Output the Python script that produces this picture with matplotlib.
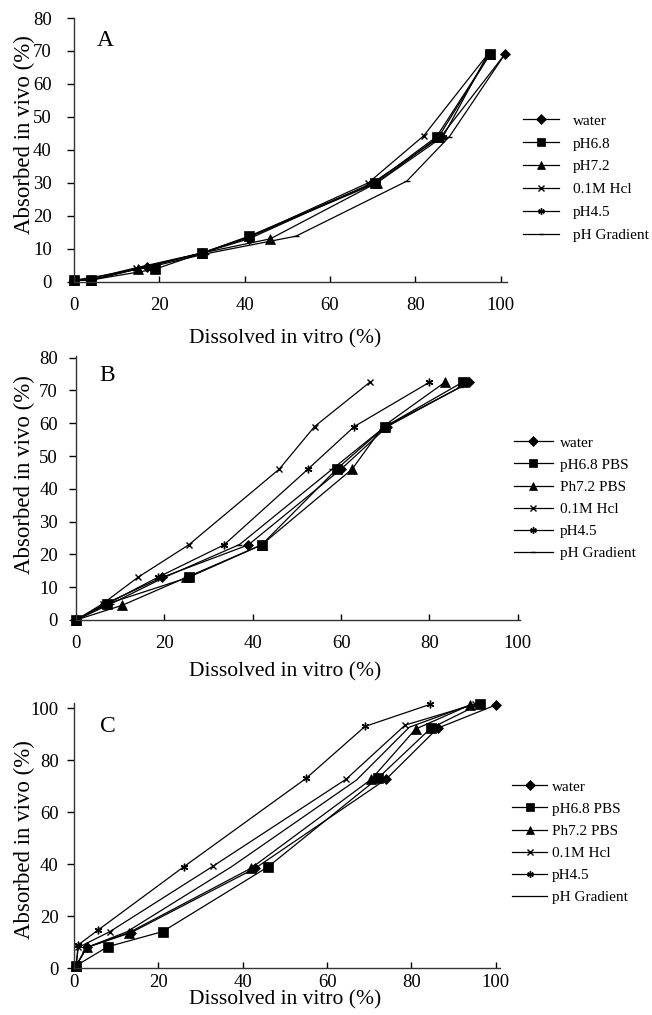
import matplotlib
matplotlib.use("Agg")
import matplotlib.pyplot as plt

plt.rcParams['font.family'] = ['Liberation Serif', 'DejaVu Serif']

# ---------------- Panel A data ----------------
a_water_x = [0, 4, 17, 30, 41, 70, 86, 101]
a_water_y = [0.5, 0.5, 4.5, 8.7, 13.0, 30, 44, 69]
a_ph68_x = [0, 4, 19, 30, 41, 70.5, 85, 97.5]
a_ph68_y = [0.5, 0.5, 3.8, 8.7, 13.8, 30, 44, 69]
a_ph72_x = [0, 4, 15, 30, 46, 71, 85.5, 97.5]
a_ph72_y = [0.5, 0.5, 4.0, 8.7, 13.0, 30, 44, 69]
a_hcl_x = [0, 3.5, 14.5, 30, 41, 69, 82, 97]
a_hcl_y = [0.5, 0.8, 4.2, 8.7, 13.5, 30, 44.3, 69]
a_ph45_x = [0, 4, 15, 30, 41, 71, 86.5, 97]
a_ph45_y = [0.5, 0.5, 4.0, 8.7, 13.5, 30, 44, 69]
a_grad_x = [0, 3, 18, 31, 52, 78, 88, 101]
a_grad_y = [0.5, 1.0, 4.5, 8.5, 13.8, 30.5, 44, 69]
a_labels = ['water', 'pH6.8', 'pH7.2', '0.1M Hcl', 'pH4.5', 'pH Gradient']

# ---------------- Panel B data ----------------
b_water_x = [0, 6.5, 19.5, 39, 60, 70.5, 89]
b_water_y = [0, 4.9, 13, 22.9, 46, 59, 72.5]
b_ph68_x = [0, 7, 25.5, 42, 59, 70, 87.5]
b_ph68_y = [0, 4.9, 13, 22.9, 46, 59, 72.5]
b_ph72_x = [0, 10.5, 25, 42, 62.5, 69.5, 83.5]
b_ph72_y = [0, 4.5, 13, 22.9, 46, 59, 72.5]
b_hcl_x = [0, 6, 14, 25.5, 46, 54, 66.5]
b_hcl_y = [0, 4.9, 13, 22.9, 46, 59, 72.5]
b_ph45_x = [0, 7, 18.5, 33.5, 52.5, 63, 80]
b_ph45_y = [0, 4.9, 13, 22.9, 46, 59, 72.5]
b_grad_x = [0, 8, 20, 37, 58, 70, 87]
b_grad_y = [0, 5, 13, 23, 46, 59, 71]
b_labels = ['water', 'pH6.8 PBS', 'Ph7.2 PBS', '0.1M Hcl', 'pH4.5', 'pH Gradient\u2009']

# ---------------- Panel C data ----------------
c_water_x = [0.5, 3, 13.5, 43, 74, 86.2, 100.1]
c_water_y = [1, 8, 13.7, 38.5, 72.7, 92.3, 101.3]
c_ph68_x = [0.5, 8, 21, 46, 72, 84.6, 96.3]
c_ph68_y = [1, 8.3, 14.1, 39, 73, 92.3, 101.7]
c_ph72_x = [0.5, 3, 13, 42, 70.5, 81, 94]
c_ph72_y = [1, 8, 13.7, 38.5, 72.7, 92, 101.3]
c_hcl_x = [0.5, 1, 8.5, 33, 64.5, 78.5, 95]
c_hcl_y = [1, 8, 14.1, 39.3, 72.7, 93.5, 101.5]
c_ph45_x = [0.5, 1, 5.7, 26, 55, 69, 84.5]
c_ph45_y = [1, 9, 14.7, 39, 73, 93, 101.5]
c_grad_x = [0.5, 3, 12.5, 37.3, 67, 79.5, 94]
c_grad_y = [1, 8, 14, 39, 72.4, 92.7, 101.3]
c_labels = ['water', 'pH6.8 PBS', 'Ph7.2 PBS', '0.1M Hcl', 'pH4.5', 'pH Gradient']

ASTER = (6, 2, 0)

W, H = 652, 1015
fig = plt.figure(figsize=(W / 100, H / 100), dpi=100)


def px_axes(l, r, top, bottom):
    return fig.add_axes([l / W, 1 - bottom / H, (r - l) / W, (bottom - top) / H])


def style_axes(ax, xlim, ylim, yticks, xpad, ypad):
    ax.set_xlim(*xlim)
    ax.set_ylim(*ylim)
    ax.set_xticks([0, 20, 40, 60, 80, 100])
    ax.set_yticks(yticks)
    for s in ['top', 'right']:
        ax.spines[s].set_visible(False)
    for s in ['left', 'bottom']:
        ax.spines[s].set_linewidth(1.0)
        ax.spines[s].set_color('#333333')
    ax.tick_params(axis='x', direction='in', length=4, width=1, pad=xpad, labelsize=13.5)
    ax.tick_params(axis='y', direction='out', length=5, width=1, pad=ypad, labelsize=13.5)
    ax.set_facecolor('none')


def draw(ax, series, markers, labels, msizes, legend_anchor, hlen, hpad, lspace):
    handles = []
    for (x, y), m, lab, ms in zip(series, markers, labels, msizes):
        h, = ax.plot(x, y, color='black', lw=0.9, marker=m, ms=ms,
                     mew=1.0 if m in ('x', ASTER, '_') else 0.5,
                     mfc='black', mec='black', label=lab, clip_on=False)
        handles.append(h)
    ax.legend(handles=handles, loc='upper left', bbox_to_anchor=legend_anchor,
              bbox_transform=fig.transFigure, frameon=False, fontsize=11,
              handlelength=hlen, handletextpad=hpad, labelspacing=lspace,
              borderpad=0, borderaxespad=0, markerscale=0.85)


# ---------- A ----------
axA = px_axes(74, 507, 18, 281.7)
style_axes(axA, (0, 101.5), (0, 80), range(0, 81, 10), xpad=11, ypad=11)
draw(axA,
     [(a_water_x, a_water_y), (a_ph68_x, a_ph68_y), (a_ph72_x, a_ph72_y),
      (a_hcl_x, a_hcl_y), (a_ph45_x, a_ph45_y), (a_grad_x, a_grad_y)],
     ['D', 's', '^', 'x', ASTER, '_'], a_labels, [5.5, 6.5, 6.5, 4.5, 5.5, 4],
     (523 / W, 1 - 114 / H), 2.35, 0.9, 0.6)
axA.text(5.4, 71.5, 'A', fontsize=17, va='baseline', ha='left')

# ---------- B ----------
axB = px_axes(76, 520, 356, 620)
style_axes(axB, (0, 100.5), (0, 80.5), range(0, 81, 10), xpad=11, ypad=8)
draw(axB,
     [(b_water_x, b_water_y), (b_ph68_x, b_ph68_y), (b_ph72_x, b_ph72_y),
      (b_hcl_x, b_hcl_y), (b_ph45_x, b_ph45_y), (b_grad_x, b_grad_y)],
     ['D', 's', '^', 'x', ASTER, '_'], b_labels, [5.5, 6.5, 6.5, 4.5, 5.5, 4],
     (514 / W, 1 - 436 / H), 2.55, 0.45, 0.55)
axB.text(5.2, 72.9, 'B', fontsize=17, va='baseline', ha='left')

# ---------- C ----------
axC = px_axes(74, 500, 703, 968.3)
style_axes(axC, (0, 101), (0, 102), range(0, 101, 20), xpad=4, ypad=6)
draw(axC,
     [(c_water_x, c_water_y), (c_ph68_x, c_ph68_y), (c_ph72_x, c_ph72_y),
      (c_hcl_x, c_hcl_y), (c_ph45_x, c_ph45_y), (c_grad_x, c_grad_y)],
     ['D', 's', '^', 'x', ASTER, 'None'], c_labels, [5.5, 6.5, 6.5, 4.5, 5.5, 4],
     (512 / W, 1 - 780 / H), 2.3, 0.3, 0.55)
axC.text(6.2, 91, 'C', fontsize=17, va='baseline', ha='left')

# axis titles
for yb in (343, 676, 1004):
    fig.text(285 / W, 1 - yb / H, 'Dissolved in vitro (%)', fontsize=15.5,
             ha='center', va='baseline')
for yc in (135, 475, 840):
    fig.text(24 / W, 1 - yc / H, 'Absorbed in vivo (%)', fontsize=16.5,
             ha='center', va='center', rotation=90)

fig.savefig('out.png', dpi=100, facecolor='white')
